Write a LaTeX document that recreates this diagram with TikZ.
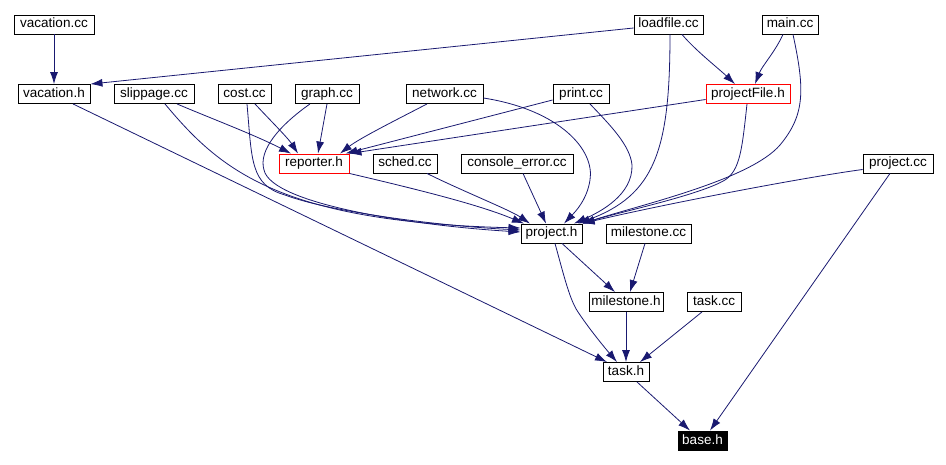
\documentclass[tikz,border=0pt]{standalone}
\usepackage{fontspec}
\setmainfont{Liberation Sans}
\usetikzlibrary{arrows.meta}
\definecolor{edgeBlue}{RGB}{25,25,112}
\tikzset{
    fileNode/.style={
        draw=black, 
        fill=white, 
        line width=0.9pt, 
        font=\fontsize{13.5}{15}\selectfont, 
        inner xsep=2pt, 
        inner ysep=0pt, 
        minimum height=19pt, 
        text height=10pt, 
        text depth=3pt
    },
    hotNode/.style={fileNode, draw=red},
    baseNode/.style={fileNode, fill=black, text=white},
    depEdge/.style={->, draw=edgeBlue, line width=0.8pt}
}

\begin{document}
\begin{tikzpicture}[x=1pt, y=-1pt, >={Latex[length=12pt, width=8pt]}]
            \useasboundingbox (0,0) rectangle (946,465);
            
            % Row 1
            \node[fileNode, minimum width=80pt] (VacCC) at (54,24.5) {vacation.cc};
            \node[fileNode, minimum width=69pt] (LoadCC) at (668.5,24.5) {loadfile.cc};
            \node[fileNode, minimum width=56pt] (MainCC) at (790,24.5) {main.cc};
            
            % Row 2
            \node[fileNode, minimum width=72pt] (VacH) at (54,94) {vacation.h};
            \node[fileNode, minimum width=80pt] (SlipCC) at (154,94) {slippage.cc};
            \node[fileNode, minimum width=53pt] (CostCC) at (244.5,94) {cost.cc};
            \node[fileNode, minimum width=64pt] (GraphCC) at (327,94) {graph.cc};
            \node[fileNode, minimum width=77pt] (NetCC) at (444.5,94) {network.cc};
            \node[fileNode, minimum width=56pt] (PrintCC) at (581,94) {print.cc};
            \node[hotNode, minimum width=84pt] (ProjFileH) at (748,94) {projectFile.h};
            
            % Row 3
            \node[hotNode, minimum width=70pt] (ReporterH) at (314,163.5) {reporter.h};
            \node[fileNode, minimum width=64pt] (SchedCC) at (405,163.5) {sched.cc};
            \node[fileNode, minimum width=112pt] (ConsoleCC) at (517,163.5) {console\_error.cc};
            \node[fileNode, minimum width=70pt] (ProjectCC) at (898,163.5) {project.cc};
            
            % Rows 4 to 7
            \node[fileNode, minimum width=61pt] (ProjectH) at (551.5,233.5) {project.h};
            \node[fileNode, minimum width=85pt] (MilestoneCC) at (648.5,233.5) {milestone.cc};
            \node[fileNode, minimum width=74pt] (MilestoneH) at (626,302) {milestone.h};
            \node[fileNode, minimum width=54pt] (TaskCC) at (714,302) {task.cc};
            \node[fileNode, minimum width=46pt] (TaskH) at (626,372) {task.h};
            \node[baseNode, minimum width=49pt] (BaseH) at (702.5,440.5) {base.h};
            
            % Includes from the top row
            \draw[depEdge] (VacCC.south) -- (VacH.north);
            \draw[depEdge] ([yshift=-3.5pt]LoadCC.west) -- (VacH.north east);
            \draw[depEdge] ([xshift=13.5pt]LoadCC.south) .. controls (695,50) and (718,68) .. ([xshift=-13pt]ProjFileH.north);
            \draw[depEdge] ([xshift=1.5pt]LoadCC.south) .. controls (670,150) and (655,195) .. ([xshift=26.5pt]ProjectH.north);
            \draw[depEdge] ([xshift=-7pt]MainCC.south) .. controls (775,52) and (762,66) .. ([xshift=7pt]ProjFileH.north);
            \draw[depEdge] ([xshift=3pt]MainCC.south) .. controls (805,90) and (805,115) .. (780,145)
                .. controls (750,180) and (640,205) .. (ProjectH.north east);
            
            % Includes of reporter.h
            \draw[depEdge] ([xshift=23pt]SlipCC.south) .. controls (210,118) and (255,135) .. ([xshift=-23pt]ReporterH.north);
            \draw[depEdge] ([xshift=10.5pt]CostCC.south) .. controls (268,118) and (288,138) .. ([xshift=-16pt]ReporterH.north);
            \draw[depEdge] (GraphCC.south) -- ([xshift=4pt]ReporterH.north);
            \draw[depEdge] ([xshift=-17.5pt]NetCC.south) .. controls (400,118) and (360,138) .. ([xshift=26pt]ReporterH.north);
            \draw[depEdge] ([yshift=-6pt]PrintCC.west) -- ([xshift=-4pt]ReporterH.north east);
            \draw[depEdge] ([yshift=-5.5pt]ProjFileH.west) -- (ReporterH.north east);
            
            % Includes of project.h
            \draw[depEdge] ([xshift=11pt]SlipCC.south) .. controls (220,170) and (280,222) .. ([yshift=5.5pt]ProjectH.west);
            \draw[depEdge] ([xshift=2.5pt]CostCC.south) .. controls (252,160) and (250,185) .. (285,195)
                .. controls (330,212) and (440,226) .. ([yshift=3.5pt]ProjectH.west);
            \draw[depEdge] ([xshift=-17pt]GraphCC.south) .. controls (280,125) and (258,150) .. (264,170)
                .. controls (272,205) and (420,226) .. ([yshift=1.5pt]ProjectH.west);
            \draw[depEdge] ([yshift=-4pt]NetCC.east) .. controls (560,110) and (595,150) .. (590,180)
                .. controls (587,200) and (575,212) .. ([xshift=12.5pt]ProjectH.north);
            \draw[depEdge] ([xshift=9pt]PrintCC.south) .. controls (610,125) and (630,145) .. (632,165)
                .. controls (633,195) and (600,212) .. ([xshift=22.5pt]ProjectH.north);
            \draw[depEdge] ([xshift=-1pt]ProjFileH.south) .. controls (742,150) and (740,170) .. (725,180)
                .. controls (700,195) and (620,212) .. (ProjectH.north east);
            \draw[depEdge] (ReporterH.south east) .. controls (420,190) and (480,205) .. ([xshift=-27.5pt]ProjectH.north);
            \draw[depEdge] ([xshift=22pt]SchedCC.south) .. controls (460,190) and (510,210) .. ([xshift=-21.5pt]ProjectH.north);
            \draw[depEdge] ([xshift=6pt]ConsoleCC.south) -- ([xshift=-5.5pt]ProjectH.north);
            \draw[depEdge] ([yshift=-6pt]ProjectCC.west) .. controls (800,178) and (660,205) .. (ProjectH.north east);
            
            % Lower part
            \draw[depEdge] ([xshift=-8pt]ProjectCC.south) -- ([xshift=7.5pt]BaseH.north);
            \draw[depEdge] ([xshift=19pt]VacH.south) -- ([xshift=-19pt]TaskH.north);
            \draw[depEdge] ([xshift=10.5pt]ProjectH.south) -- ([xshift=-11pt]MilestoneH.north);
            \draw[depEdge] ([xshift=3.5pt]ProjectH.south) .. controls (565,280) and (570,300) .. (578,312)
                .. controls (590,330) and (605,348) .. ([xshift=-9pt]TaskH.north);
            \draw[depEdge] ([xshift=-3.5pt]MilestoneCC.south) -- ([xshift=4pt]MilestoneH.north);
            \draw[depEdge] (MilestoneH.south) -- (TaskH.north);
            \draw[depEdge] ([xshift=-12pt]TaskCC.south) -- ([xshift=14pt]TaskH.north);
            \draw[depEdge] ([xshift=11pt]TaskH.south) -- ([xshift=-12.5pt]BaseH.north);
        \end{tikzpicture}
\end{document}
